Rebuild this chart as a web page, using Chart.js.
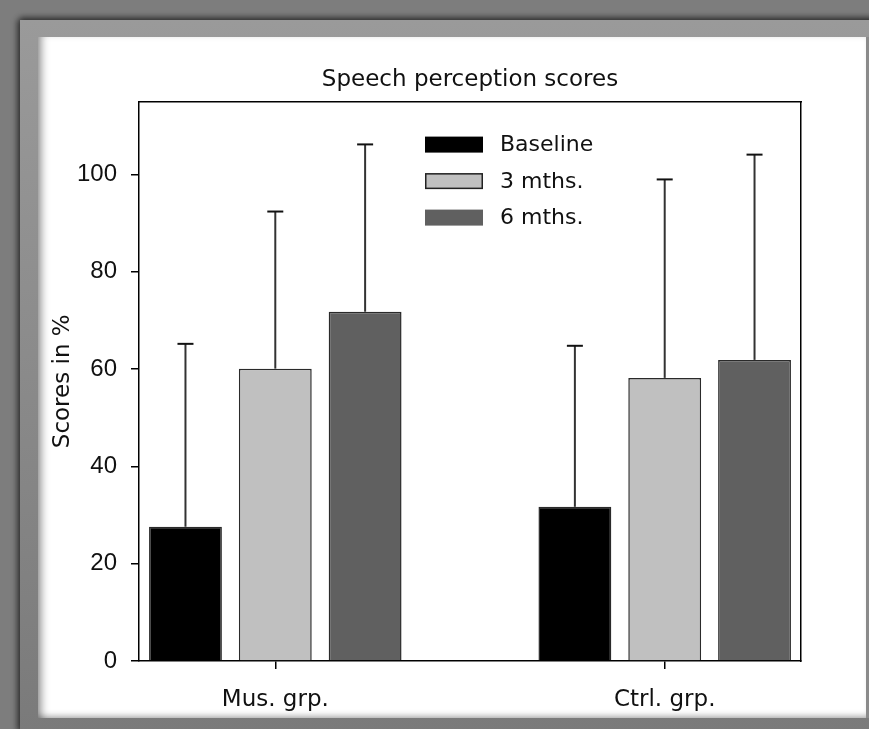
<!DOCTYPE html>
<html>
<head>
<meta charset="utf-8">
<script src="https://cdn.jsdelivr.net/npm/chart.js@4.4.1/dist/chart.umd.min.js"></script>
<style>
  html, body { margin: 0; padding: 0; }
  body { width: 869px; height: 729px; background: #7d7d7d; position: relative; overflow: hidden; }
  .frame {
    position: absolute; left: 20px; top: 20px; width: 870px; height: 712px;
    background: linear-gradient(#9a9a9a, #7a7a7a);
    box-shadow: 0 -3px 6px rgba(0,0,0,0.45), -3px 0 6px rgba(0,0,0,0.45);
  }
  .panel {
    position: absolute; left: 38px; top: 37px; width: 828px; height: 681px;
    background: #fff; overflow: hidden;
    box-shadow: inset 8px 0 8px -5px rgba(0,0,0,0.45), inset 0 -6px 6px -4px rgba(0,0,0,0.3);
  }
  .edge { position: absolute; left: 866px; top: 37px; width: 3px; height: 681px; background: #8a8a8a; }
  canvas { position: absolute; left: 0; top: 0; }
</style>
</head>
<body>
<div class="frame"></div>
<div class="panel"><canvas id="c" width="864" height="681"></canvas></div>
<div class="edge"></div>
<script>
const groups = ['Mus. grp.', 'Ctrl. grp.'];
const groupX = [1, 2];
const seriesNames = ['Baseline', '3 mths.', '6 mths.'];
const baseline = [27.6, 31.7];
const threeMonths = [60.1, 58.2];
const sixMonths = [71.8, 61.9];
// upper end of the error whiskers
const baselineErr = [65.2, 64.8];
const threeMonthsErr = [92.4, 99.0];
const sixMonthsErr = [106.2, 104.1];
const yTicks = [0, 20, 40, 60, 80, 100];

const fills = ['#000000', '#c0c0c0', '#606060'];
const errTops = [baselineErr, threeMonthsErr, sixMonthsErr];
const TEXT_FONT = "'DejaVu Sans', Verdana, sans-serif";
const NUM_FONT = "'Liberation Sans', Arial, sans-serif";

const errorBars = {
    id: 'errorBars',
    afterDatasetsDraw(chart) {
        const ctx = chart.ctx;
        const y = chart.scales.y;
        ctx.save();
        chart.data.datasets.forEach((ds, di) => {
            const meta = chart.getDatasetMeta(di);
            meta.data.forEach((bar, i) => {
                const top = y.getPixelForValue(errTops[di][i]);
                ctx.strokeStyle = '#333';
                ctx.lineWidth = 2;
                ctx.beginPath();
                ctx.moveTo(bar.x, bar.y);
                ctx.lineTo(bar.x, top);
                ctx.stroke();
                ctx.strokeStyle = '#111';
                ctx.beginPath();
                ctx.moveTo(bar.x - 8, top);
                ctx.lineTo(bar.x + 8, top);
                ctx.stroke();
            });
        });
        ctx.restore();
    }
};

const boxLegend = {
    id: 'boxLegend',
    afterDraw(chart) {
        const ctx = chart.ctx;
        const a = chart.chartArea;
        ctx.save();
        ctx.font = '22px ' + TEXT_FONT;
        ctx.textBaseline = 'middle';
        chart.data.datasets.forEach((ds, i) => {
            const cy = a.top + 43 + i * 36.5;
            const bx = a.left + 286;
            ctx.fillStyle = ds.backgroundColor;
            ctx.fillRect(bx, cy - 8, 58, 16);
            if (i === 1) {
                ctx.strokeStyle = '#222';
                ctx.lineWidth = 1.5;
                ctx.strokeRect(bx + 0.75, cy - 7.25, 56.5, 14.5);
            }
            ctx.fillStyle = '#111';
            ctx.fillText(ds.label, bx + 75, cy + 1);
        });
        ctx.restore();
    }
};

const axisBorder = { display: true, color: '#000', width: 1.5 };

new Chart(document.getElementById('c'), {
    type: 'bar',
    data: {
        datasets: [baseline, threeMonths, sixMonths].map((vals, i) => ({
            label: seriesNames[i],
            data: groupX.map((x, j) => ({ x, y: vals[j] })),
            backgroundColor: fills[i],
            borderColor: '#2a2a2a',
            borderWidth: 1.5,
            categoryPercentage: 0.692,
            barPercentage: 0.811
        }))
    },
    options: {
        responsive: false,
        animation: false,
        layout: { padding: 0 },
        plugins: {
            legend: { display: false },
            tooltip: { enabled: false },
            title: {
                display: true,
                text: 'Speech perception scores',
                color: '#111',
                font: { family: TEXT_FONT, size: 23, weight: 'normal' },
                padding: { top: 29, bottom: 8 }
            }
        },
        scales: {
            x: {
                type: 'linear',
                position: 'bottom',
                offset: false,
                min: 0.65,
                max: 2.35,
                afterBuildTicks: s => { s.ticks = groupX.map(v => ({ value: v })); },
                afterFit: s => { s.height = 57; },
                ticks: {
                    callback: v => groups[groupX.indexOf(v)],
                    color: '#111',
                    font: { family: TEXT_FONT, size: 23 },
                    padding: 17,
                    maxRotation: 0
                },
                grid: { offset: false, drawOnChartArea: false, color: '#000', tickLength: 8, lineWidth: 1.5 },
                border: axisBorder
            },
            x2: {
                type: 'linear',
                position: 'top',
                offset: false,
                min: 0.65,
                max: 2.35,
                afterFit: s => { s.height = 0; },
                ticks: { display: false },
                grid: { display: false },
                border: axisBorder
            },
            y: {
                position: 'left',
                min: 0,
                max: 115,
                afterBuildTicks: s => { s.ticks = yTicks.map(v => ({ value: v })); },
                afterFit: s => { s.width = 101; },
                ticks: {
                    color: '#111',
                    font: { family: NUM_FONT, size: 24 },
                    padding: 14
                },
                grid: { drawOnChartArea: false, color: '#000', tickLength: 8, lineWidth: 1.5 },
                border: axisBorder,
                title: {
                    display: true,
                    text: 'Scores in %',
                    color: '#111',
                    font: { family: TEXT_FONT, size: 23 },
                    padding: { top: 11, bottom: 0 }
                }
            },
            y2: {
                position: 'right',
                min: 0,
                max: 115,
                afterFit: s => { s.width = 101; },
                ticks: { display: false },
                grid: { display: false },
                border: axisBorder
            }
        }
    },
    plugins: [errorBars, boxLegend]
});
</script>
</body>
</html>
